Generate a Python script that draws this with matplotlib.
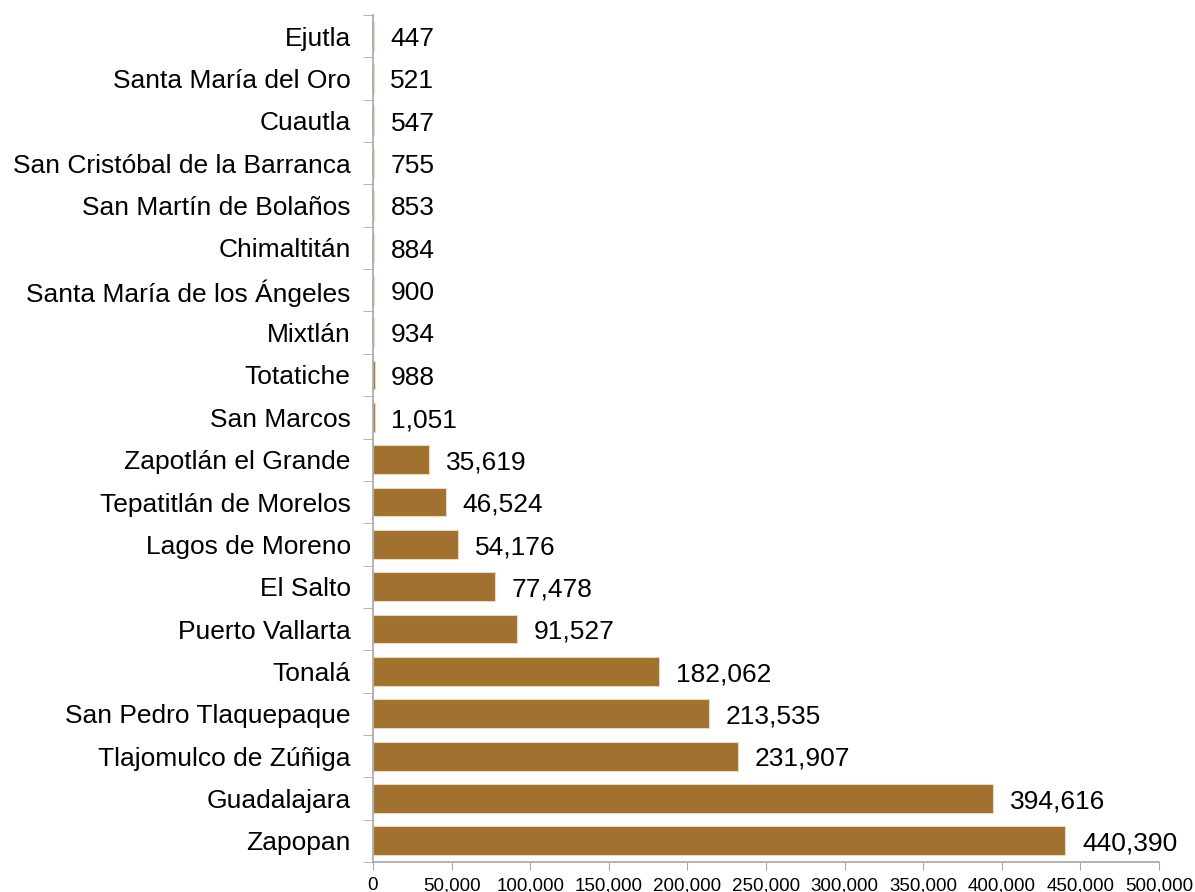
import numpy as np
import matplotlib.pyplot as plt
from matplotlib.ticker import FuncFormatter, FixedLocator

plt.rcParams['font.family'] = ['Liberation Sans', 'DejaVu Sans']

municipios = ["Ejutla", "Santa María del Oro", "Cuautla", "San Cristóbal de la Barranca",
              "San Martín de Bolaños", "Chimaltitán", "Santa María de los Ángeles", "Mixtlán",
              "Totatiche", "San Marcos", "Zapotlán el Grande", "Tepatitlán de Morelos",
              "Lagos de Moreno", "El Salto", "Puerto Vallarta", "Tonalá",
              "San Pedro Tlaquepaque", "Tlajomulco de Zúñiga", "Guadalajara", "Zapopan"]
valores = [447, 521, 547, 755, 853, 884, 900, 934, 988, 1051,
           35619, 46524, 54176, 77478, 91527, 182062, 213535, 231907, 394616, 440390]

color_barra = '#A0712F'
gris = '#A6A6A6'

fig = plt.figure(figsize=(11.95, 8.92), dpi=100)
ax = fig.add_axes([0.3121, 0.0336, 0.6578, 0.9496])

y = np.arange(len(municipios))
ax.barh(y, valores, height=0.68, color=color_barra, edgecolor='#E8D9C0', linewidth=0.8)
ax.set_ylim(len(municipios) - 0.5, -0.5)
ax.set_xlim(0, 500000)

for yi, v in zip(y, valores):
    ax.annotate(f"{v:,}", xy=(v, yi), xytext=(12, -2), textcoords='offset points',
                ha='left', va='center', fontsize=19, color='black')

ax.set_yticks(y)
ax.set_yticklabels(municipios, fontsize=19)
ax.tick_params(axis='y', length=0, pad=16)
ax.yaxis.set_minor_locator(FixedLocator(np.arange(-0.5, len(municipios), 1)))
ax.tick_params(axis='y', which='minor', length=7, color=gris, direction='out')

ax.set_xticks(np.arange(0, 500001, 50000))
ax.xaxis.set_major_formatter(FuncFormatter(lambda v, p: f"{int(v):,}"))
ax.tick_params(axis='x', length=6, color=gris, labelsize=13.5, pad=5)

for s in ['top', 'right']:
    ax.spines[s].set_visible(False)
for s in ['left', 'bottom']:
    ax.spines[s].set_color(gris)
    ax.spines[s].set_linewidth(1.2)

fig.savefig('out.png', dpi=100)
